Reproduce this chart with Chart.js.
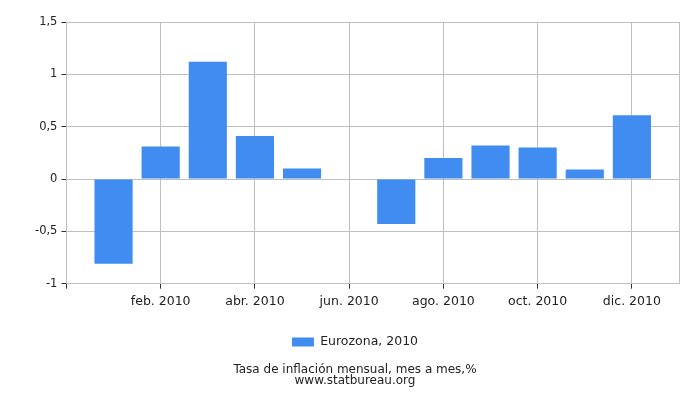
<!DOCTYPE html>
<html>
<head>
<meta charset="utf-8">
<script src="https://cdn.jsdelivr.net/npm/chart.js@4"></script>
<style>
  html, body { margin: 0; padding: 0; background: #fff; }
  #wrap { width: 700px; height: 400px; }
</style>
</head>
<body>
<div id="wrap"><canvas id="chart"></canvas></div>
<script>
// monthly inflation, euro area 2010 (% month on month)
var months = ['ene. 2010', 'feb. 2010', 'mar. 2010', 'abr. 2010', 'may. 2010', 'jun. 2010',
              'jul. 2010', 'ago. 2010', 'sep. 2010', 'oct. 2010', 'nov. 2010', 'dic. 2010'];
var values = [-0.81, 0.31, 1.12, 0.41, 0.10, 0, -0.43, 0.20, 0.32, 0.30, 0.09, 0.61];
var shownTicks = ['feb. 2010', 'abr. 2010', 'jun. 2010', 'ago. 2010', 'oct. 2010', 'dic. 2010'];
var seriesName = 'Eurozona, 2010';
var titleLines = ['Tasa de inflación mensual, mes a mes,%', 'www.statbureau.org'];

// pad one empty slot on each side so the months sit off the frame
var labels = [''].concat(months, ['']);
var data = [null].concat(values, [null]);

var gridGray = '#bfbfbf';
var none = 'rgba(0,0,0,0)';

function isShown(i) {
  return shownTicks.indexOf(labels[i]) >= 0;
}

new Chart(document.getElementById('chart'), {
  type: 'bar',
  data: {
    labels: labels,
    datasets: [{
      label: seriesName,
      data: data,
      backgroundColor: '#418cf0',
      borderWidth: 0,
      barPercentage: 0.81,
      categoryPercentage: 1
    }]
  },
  options: {
    responsive: true,
    maintainAspectRatio: false,
    animation: false,
    layout: { padding: { left: 31, right: 21, top: 22, bottom: 13 } },
    scales: {
      x: {
        offset: false,
        grid: {
          offset: false,
          color: function (ctx) {
            return (isShown(ctx.index) || ctx.index === labels.length - 1) ? gridGray : none;
          },
          tickColor: function (ctx) {
            return (isShown(ctx.index) || ctx.index === 0) ? '#333' : none;
          },
          tickLength: 5
        },
        border: { color: gridGray },
        ticks: {
          autoSkip: false,
          maxRotation: 0,
          color: '#222',
          font: { family: 'DejaVu Sans', size: 12.5 },
          padding: 6,
          callback: function (v, i) {
            return isShown(i) ? labels[i] : '';
          }
        }
      },
      y: {
        min: -1,
        max: 1.5,
        grid: { color: gridGray, tickLength: 5, tickColor: '#333' },
        border: { color: gridGray },
        ticks: {
          stepSize: 0.5,
          color: '#222',
          font: { family: 'DejaVu Sans', size: 11.5 },
          padding: 4,
          callback: function (v) { return String(v).replace('.', ','); }
        }
      }
    },
    plugins: {
      legend: {
        position: 'bottom',
        labels: {
          boxWidth: 22,
          boxHeight: 9,
          color: '#222',
          font: { family: 'DejaVu Sans', size: 12.5 },
          padding: 20
        }
      },
      title: {
        display: true,
        position: 'bottom',
        text: titleLines,
        color: '#222',
        font: { family: 'DejaVu Sans', size: 12, weight: 'normal', lineHeight: 0.95 },
        padding: { top: 6, bottom: 0 }
      },
      tooltip: { enabled: false }
    }
  }
});
</script>
</body>
</html>
